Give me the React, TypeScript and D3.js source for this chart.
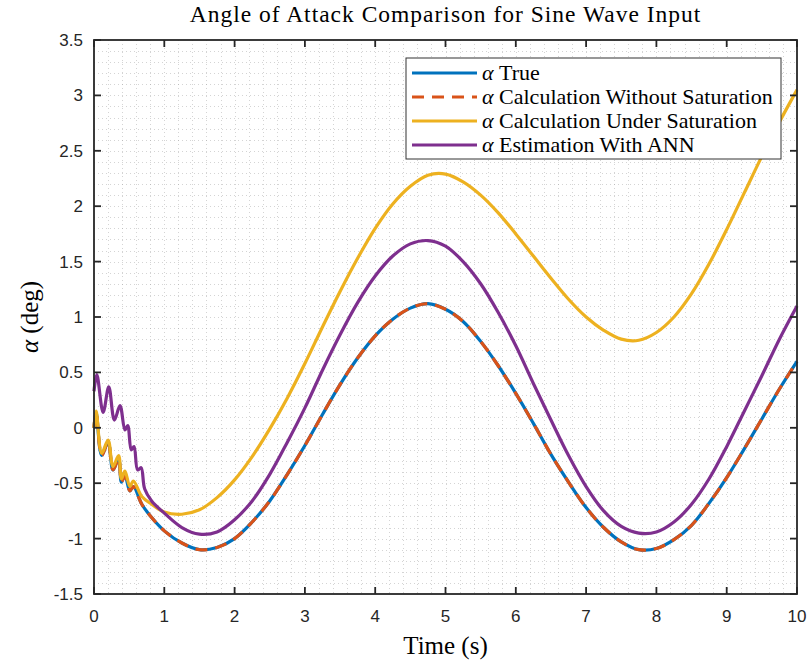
import React, { useEffect, useRef } from 'react';
import * as d3 from 'd3';

// time grid used for the smooth part of every series (s)
const tMain = [
  1.0, 1.25, 1.5, 1.75, 2.0, 2.25, 2.5, 2.75, 3.0, 3.25, 3.5, 3.75, 4.0, 4.25, 4.5, 4.75, 5.0, 5.25, 5.5,
  5.75, 6.0, 6.25, 6.5, 6.75, 7.0, 7.25, 7.5, 7.75, 8.0, 8.25, 8.5, 8.75, 9.0, 9.25, 9.5, 9.75, 10.0,
];

// alpha true (deg)
const trueEarlyT = [0, 0.03, 0.11, 0.2, 0.27, 0.35, 0.39, 0.44, 0.51, 0.56, 0.68, 0.82];
const trueEarlyV = [0, 0.14, -0.25, -0.13, -0.38, -0.28, -0.49, -0.43, -0.57, -0.53, -0.69, -0.81];
const trueMain = [
  -0.93, -1.04, -1.1, -1.08, -1.0, -0.85, -0.66, -0.42, -0.16, 0.12, 0.39, 0.63, 0.83, 0.98, 1.08, 1.12, 1.07,
  0.96, 0.78, 0.56, 0.31, 0.04, -0.24, -0.49, -0.72, -0.9, -1.03, -1.1, -1.09, -1.01, -0.88, -0.68, -0.45, -0.19,
  0.08, 0.35, 0.6,
];

// calculation without saturation lies on top of the true curve
const noSatEarlyV = [0, 0.14, -0.25, -0.13, -0.38, -0.28, -0.49, -0.43, -0.57, -0.53, -0.69, -0.81];
const noSatMain = [
  -0.93, -1.04, -1.1, -1.08, -1.0, -0.85, -0.66, -0.42, -0.16, 0.12, 0.39, 0.63, 0.83, 0.98, 1.08, 1.12, 1.07,
  0.96, 0.78, 0.56, 0.31, 0.04, -0.24, -0.49, -0.72, -0.9, -1.03, -1.1, -1.09, -1.01, -0.88, -0.68, -0.45, -0.19,
  0.08, 0.35, 0.6,
];

// calculation under saturation
const satEarlyT = [0, 0.03, 0.11, 0.2, 0.27, 0.35, 0.39, 0.44, 0.51, 0.56, 0.68, 0.82];
const satEarlyV = [0, 0.15, -0.23, -0.11, -0.35, -0.25, -0.46, -0.39, -0.53, -0.48, -0.62, -0.69];
const satMain = [
  -0.76, -0.78, -0.74, -0.63, -0.47, -0.26, -0.01, 0.27, 0.58, 0.91, 1.23, 1.53, 1.8, 2.02, 2.18, 2.28, 2.29,
  2.22, 2.1, 1.94, 1.75, 1.55, 1.35, 1.16, 1.0, 0.88, 0.8, 0.79, 0.86, 1.0, 1.21, 1.48, 1.79, 2.12, 2.45, 2.76,
  3.05,
];

// estimation with ANN
const annEarlyT = [0, 0.04, 0.13, 0.21, 0.29, 0.37, 0.44, 0.48, 0.53, 0.57, 0.62, 0.67, 0.72, 0.82];
const annEarlyV = [0.33, 0.48, 0.14, 0.37, 0.07, 0.2, -0.02, 0.02, -0.2, -0.17, -0.38, -0.36, -0.55, -0.66];
const annMain = [
  -0.77, -0.9, -0.96, -0.94, -0.83, -0.66, -0.42, -0.13, 0.18, 0.52, 0.84, 1.13, 1.37, 1.55, 1.66, 1.69, 1.64,
  1.5, 1.3, 1.04, 0.74, 0.4, 0.07, -0.25, -0.53, -0.75, -0.89, -0.95, -0.94, -0.85, -0.69, -0.46, -0.17, 0.15,
  0.47, 0.8, 1.1,
];

const xTicks = [0, 1, 2, 3, 4, 5, 6, 7, 8, 9, 10];
const yTicks = [-1.5, -1, -0.5, 0, 0.5, 1, 1.5, 2, 2.5, 3, 3.5];
const legendLabels = [
  'True',
  'Calculation Without Saturation',
  'Calculation Under Saturation',
  'Estimation With ANN',
];

type Pt = [number, number];
const join = (et: number[], ev: number[], mv: number[]): Pt[] =>
  [...et.map((t, i) => [t, ev[i]] as Pt), ...tMain.map((t, i) => [t, mv[i]] as Pt)];

const series = [
  { pts: join(trueEarlyT, trueEarlyV, trueMain), color: '#0072BD', dash: null },
  { pts: join(trueEarlyT, noSatEarlyV, noSatMain), color: '#D95319', dash: '12,8' },
  { pts: join(satEarlyT, satEarlyV, satMain), color: '#EDB120', dash: null },
  { pts: join(annEarlyT, annEarlyV, annMain), color: '#7E2F8E', dash: null },
];

const W = 811;
const H = 664;
const margin = { top: 40, right: 14, bottom: 70, left: 94 };
const serif = '"Liberation Serif", "DejaVu Serif", serif';
const sans = '"Liberation Sans", Arial, sans-serif';
const axisColor = '#262626';

export default function App() {
  const ref = useRef<SVGSVGElement>(null);

  useEffect(() => {
    const svg = d3.select(ref.current);
    svg.selectAll('*').remove();

    const x = d3.scaleLinear().domain([0, 10]).range([margin.left, W - margin.right]);
    const y = d3.scaleLinear().domain([-1.5, 3.5]).range([H - margin.bottom, margin.top]);
    const [x0, x1] = x.range();
    const [y0, y1] = y.range();

    svg.append('rect').attr('width', W).attr('height', H).attr('fill', 'white');

    // dotted grid (minor + major)
    const grid = svg.append('g').attr('stroke', '#a0a0a0').attr('stroke-opacity', 0.45)
      .attr('stroke-width', 1).attr('stroke-dasharray', '1,3');
    const gx = d3.range(1, 50).map((i) => i * 0.2);
    const gy = d3.range(1, 50).map((i) => -1.5 + i * 0.1);
    grid.selectAll('.vx').data(gx).enter().append('line')
      .attr('x1', (d) => Math.round(x(d)) + 0.5).attr('x2', (d) => Math.round(x(d)) + 0.5)
      .attr('y1', y1).attr('y2', y0);
    grid.selectAll('.hy').data(gy).enter().append('line')
      .attr('y1', (d) => Math.round(y(d)) + 0.5).attr('y2', (d) => Math.round(y(d)) + 0.5)
      .attr('x1', x0).attr('x2', x1);

    // curves
    const line = d3.line<Pt>().x((d) => x(d[0])).y((d) => y(d[1])).curve(d3.curveCatmullRom.alpha(0.5));
    const plot = svg.append('g');
    series.forEach((s) => {
      plot.append('path').attr('d', line(s.pts)).attr('fill', 'none').attr('stroke', s.color)
        .attr('stroke-width', 3.2).attr('stroke-linejoin', 'round')
        .attr('stroke-dasharray', s.dash);
    });

    // axes box and ticks
    const ax = svg.append('g').attr('stroke', axisColor).attr('stroke-width', 1.8);
    ax.append('rect').attr('x', x0).attr('y', y1).attr('width', x1 - x0).attr('height', y0 - y1)
      .attr('fill', 'none');
    const tl = 7;
    xTicks.forEach((t) => {
      ax.append('line').attr('x1', x(t)).attr('x2', x(t)).attr('y1', y0).attr('y2', y0 - tl);
      ax.append('line').attr('x1', x(t)).attr('x2', x(t)).attr('y1', y1).attr('y2', y1 + tl);
    });
    yTicks.forEach((t) => {
      ax.append('line').attr('y1', y(t)).attr('y2', y(t)).attr('x1', x0).attr('x2', x0 + tl);
      ax.append('line').attr('y1', y(t)).attr('y2', y(t)).attr('x1', x1).attr('x2', x1 - tl);
    });

    const labels = svg.append('g').attr('font-family', sans).attr('font-size', 17).attr('fill', axisColor);
    labels.selectAll('.xt').data(xTicks).enter().append('text')
      .attr('x', (d) => x(d)).attr('y', y0 + 28).attr('text-anchor', 'middle').text((d) => String(d));
    labels.selectAll('.yt').data(yTicks).enter().append('text')
      .attr('x', x0 - 11).attr('y', (d) => y(d) + 6).attr('text-anchor', 'end').text((d) => String(d));

    // title and axis labels
    svg.append('text').attr('x', (x0 + x1) / 2).attr('y', 22).attr('text-anchor', 'middle')
      .attr('font-family', serif).attr('font-size', 23.5).attr('letter-spacing', 1).attr('fill', 'black')
      .text('Angle of Attack Comparison for Sine Wave Input');
    svg.append('text').attr('x', (x0 + x1) / 2).attr('y', 654).attr('text-anchor', 'middle')
      .attr('font-family', serif).attr('font-size', 25).attr('fill', 'black').text('Time (s)');
    const yl = svg.append('text').attr('transform', `translate(38, ${(y0 + y1) / 2}) rotate(-90)`)
      .attr('text-anchor', 'middle').attr('font-family', serif).attr('font-size', 25).attr('fill', 'black');
    yl.append('tspan').attr('font-style', 'italic').text('α');
    yl.append('tspan').text(' (deg)');

    // legend
    const lg = svg.append('g').attr('transform', 'translate(406, 58)');
    lg.append('rect').attr('width', 375).attr('height', 101).attr('fill', 'white')
      .attr('stroke', '#333').attr('stroke-width', 1);
    series.forEach((s, i) => {
      const cy = 15 + i * 24;
      lg.append('line').attr('x1', 6).attr('x2', 71).attr('y1', cy).attr('y2', cy)
        .attr('stroke', s.color).attr('stroke-width', 3.2).attr('stroke-dasharray', s.dash);
      const t = lg.append('text').attr('x', 76).attr('y', cy + 7).attr('font-family', serif)
        .attr('font-size', 22).attr('fill', 'black');
      t.append('tspan').attr('font-style', 'italic').text('α');
      t.append('tspan').text(' ' + legendLabels[i]);
    });
  }, []);

  return (
    <div style={{ position: 'absolute', left: 0, top: 0 }}>
      <svg ref={ref} width={W} height={H} viewBox={`0 0 ${W} ${H}`} style={{ display: 'block' }}></svg>
    </div>
  );
}
